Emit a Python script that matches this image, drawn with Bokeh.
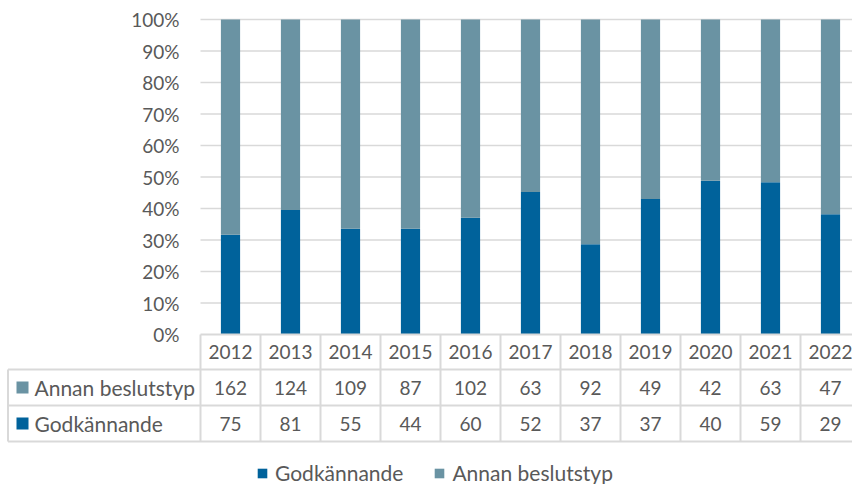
from bokeh.plotting import figure
from bokeh.models import Range1d, ColumnDataSource, Legend, LegendItem
from bokeh.core.properties import value
from bokeh.embed import file_html
from bokeh.resources import INLINE

# ---- data ----
years = ["2012", "2013", "2014", "2015", "2016", "2017", "2018", "2019", "2020", "2021", "2022"]
godkannande = [75, 81, 55, 44, 60, 52, 37, 37, 40, 59, 29]
annan = [162, 124, 109, 87, 102, 63, 92, 49, 42, 63, 47]
series_names = ["Godkännande", "Annan beslutstyp"]
y_ticks = [0, 10, 20, 30, 40, 50, 60, 70, 80, 90, 100]
y_tick_labels = [f"{t}%" for t in y_ticks]

# ---- style ----
colors = ["#00629B", "#6A93A3"]
text_color = "#595959"
grid_color = "#D9D9D9"
FONT = "Lato"
FS = "21px"      # word labels
FS_NUM = "19px"  # numbers

O = 1          # page offset of canvas
W, H = 852, 484
PX_X = 60.0    # px per category column
PX_Y = 3.15    # px per percent
left_px = 201 - O  # canvas x where first column starts
top_px = 20 - O    # canvas y of 100%

x0 = -left_px / PX_X
x1 = x0 + W / PX_X
y1 = 100 + top_px / PX_Y
y0 = y1 - H / PX_Y


def px(page_x):
    return x0 + (page_x - O) / PX_X


def py(page_y):
    return y1 - (page_y - O) / PX_Y


n = len(years)
xs = [i + 0.5 for i in range(n)]
totals = [g + a for g, a in zip(godkannande, annan)]
g_pct = [100.0 * g / t for g, t in zip(godkannande, totals)]
a_pct = [100.0 * a / t for a, t in zip(annan, totals)]

src = ColumnDataSource(dict(x=xs, g=g_pct, a=a_pct, year=years,
                            gv=[str(v) for v in godkannande],
                            av=[str(v) for v in annan]))

p = figure(width=W, height=H, output_backend="svg", toolbar_location=None,
           x_range=Range1d(x0, x1), y_range=Range1d(y0, y1), min_border=0)
p.axis.visible = False
p.grid.visible = False
p.outline_line_color = None
p.background_fill_color = "white"
p.border_fill_color = "white"

# gridlines
gy = [t for t in y_ticks if t > 0]
p.segment(x0=[0] * len(gy), x1=[x1] * len(gy), y0=gy, y1=gy,
          line_color=grid_color, line_width=1.5)

# bars
rs = p.vbar_stack(["g", "a"], x="x", width=0.32, source=src,
                  color=colors, line_color=None)

# y tick labels
p.text(x=[px(180)] * len(y_ticks), y=y_ticks, text=y_tick_labels,
       text_align="right", text_baseline="middle",
       text_font=value(FONT), text_font_size=FS_NUM, text_color=text_color)

# table lines
row_top = 0
row_h1 = py(370)
row_h2 = py(406)
row_h3 = py(442)
left_edge = px(8.5)
p.segment(x0=[0, left_edge, left_edge, left_edge], x1=[x1] * 4,
          y0=[row_top, row_h1, row_h2, row_h3], y1=[row_top, row_h1, row_h2, row_h3],
          line_color=grid_color, line_width=2)
vx = list(range(n + 1))
p.segment(x0=vx, x1=vx, y0=[row_top] * len(vx), y1=[row_h3] * len(vx),
          line_color=grid_color, line_width=2)
p.segment(x0=[left_edge], x1=[left_edge], y0=[row_h1], y1=[row_h3],
          line_color=grid_color, line_width=2)

# header years
p.text(x="x", y=py(352.5), text="year", source=src,
       text_align="center", text_baseline="middle",
       text_font=value(FONT), text_font_size=FS_NUM, text_color=text_color)
# values
p.text(x="x", y=py(388), text="av", source=src,
       text_align="center", text_baseline="middle",
       text_font=value(FONT), text_font_size=FS_NUM, text_color=text_color)
p.text(x="x", y=py(424), text="gv", source=src,
       text_align="center", text_baseline="middle",
       text_font=value(FONT), text_font_size=FS_NUM, text_color=text_color)

# row labels
p.scatter(x=[px(23), px(23)], y=[py(388), py(424)], marker="square", size=12,
          color=[colors[1], colors[0]], line_color=None)
p.text(x=[px(35), px(35)], y=[py(388), py(424)], text=[series_names[1], series_names[0]],
       text_align="left", text_baseline="middle",
       text_font=value(FONT), text_font_size=FS, text_color=text_color)

# legend
legend = Legend(items=[LegendItem(label=series_names[0], renderers=[rs[0]]),
                       LegendItem(label=series_names[1], renderers=[rs[1]])],
                orientation="horizontal", location=(257 - O, -1),
                glyph_width=12, glyph_height=12, label_standoff=7, spacing=30,
                padding=0, margin=0, border_line_color=None,
                background_fill_alpha=0,
                label_text_font=FONT, label_text_font_size=FS,
                label_text_color=text_color)
p.add_layout(legend)

open("out.html", "w").write(file_html(p, INLINE))
